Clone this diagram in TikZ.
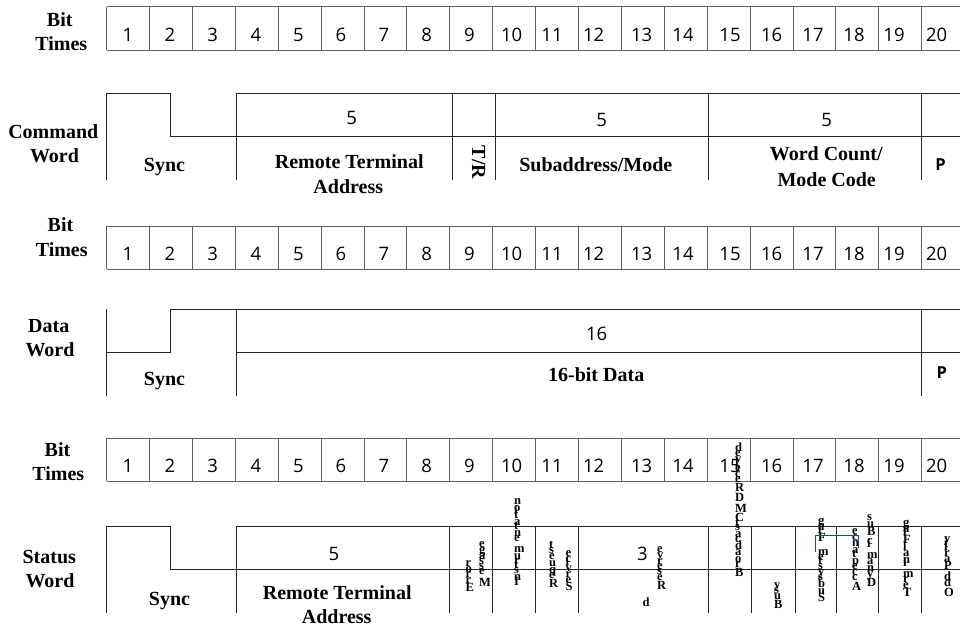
\documentclass[tikz,border=0pt]{standalone}
\usepackage{fontspec}
\setmainfont{Liberation Serif}
\newfontfamily\numfont{Open Sans}
\newcommand\vfnt{\bfseries\fontsize{12.5}{12.5}\selectfont}
\tikzset{
  lbl/.style={font=\bfseries\fontsize{20}{22}\selectfont, inner sep=0pt, anchor=base},
  num/.style={font=\numfont\fontsize{18.5}{20}\selectfont, inner sep=0pt, anchor=base},
  parity/.style={font=\numfont\bfseries\fontsize{16.5}{18}\selectfont, inner sep=0pt, anchor=base},
  vg/.style={font=\vfnt, inner sep=0pt, anchor=base west},
  gridln/.style={draw=black!62, line width=0.9pt},
  wline/.style={draw=black!85, line width=0.9pt},
  selbox/.style={draw=blue!55!cyan!70!black, line width=0.7pt},
}
\newcount\vcnt
\newcommand\vcglyph[3]{%
  \global\advance\vcnt by 1
  \edef\vcy{#2}%
  \node[vg] (vg\the\vcnt) at (#1,\vcy) {#3};%
}
\newcommand\vcmeasure[1]{\pgfinterruptpicture\vfnt #1\endpgfinterruptpicture}
\ExplSyntaxOn
\dim_new:N \g_vc_dim
\box_new:N \l_vc_box
\NewDocumentCommand \vcol { m m m }
  {
    \dim_gzero:N \g_vc_dim
    \tl_map_inline:nn {#3}
      {
        \hbox_set:Nn \l_vc_box { \vcmeasure {##1} }
        \vcglyph {#1} { \dim_to_decimal:n { #2pt - \g_vc_dim } } {##1}
        \dim_gadd:Nn \g_vc_dim { \box_wd:N \l_vc_box }
      }
  }
\ExplSyntaxOff
\begin{document}
\begin{tikzpicture}[x=1pt,y=-1pt]
\useasboundingbox (0,0) rectangle (960,627);
% ---------- bit time rows ----------
\foreach \t/\b in {6.7/50,226/269.3,438/481}{
  \draw[gridln] (106.7,\t) -- (960,\t);
  \draw[gridln] (106.7,\b) -- (960,\b);
  \foreach \i in {0,...,19}{
    \draw[gridln] ({106.7+42.89*\i},\t) -- ({106.7+42.89*\i},\b);
  }
}
\foreach \n/\cx in {1/128,2/170,3/212.7,4/255.8,5/298.5,6/340.8,7/384,8/426.7,9/469.5,10/511.7,11/552,12/593.7,13/641.7,14/683,15/730,16/771.7,17/813,18/854,19/894,20/936.7}{
  \node[num] (a\n) at (\cx,41.7) {\n};
  \node[num] (b\n) at (\cx,260.5) {\n};
  \node[num] (c\n) at (\cx,472.7) {\n};
}
\node[lbl] (bitA) at (59.7,26.7) {Bit};
\node[lbl] (timA) at (61.3,50) {Times};
\node[lbl] (bitB) at (60.5,231.7) {Bit};
\node[lbl] (timB) at (61.7,256) {Times};
\node[lbl] (bitC) at (57.5,456.7) {Bit};
\node[lbl] (timC) at (58.3,480.7) {Times};
% ---------- command word ----------
\draw[wline] (106.7,180) -- (106.7,93.3) -- (170,93.3) -- (170,136.3) -- (960,136.3);
\draw[wline] (236,93.3) -- (960,93.3);
\foreach \x in {236,452.5,495.3,708.7,921.7}{
  \draw[wline] (\x,93.3) -- (\x,180);
}
\node[lbl] (cmd1) at (53.3,138.3) {Command};
\node[lbl] (cmd2) at (54.5,162.7) {Word};
\node[lbl] (csync) at (164.5,171.7) {Sync};
\node[num] (c5a) at (351.7,124.5) {5};
\node[lbl] (crt1) at (349.2,168.3) {Remote Terminal};
\node[lbl] (crt2) at (348.3,193.3) {Address};
\node[font=\bfseries\fontsize{20}{22}\selectfont, inner sep=0pt, rotate=-90] (ctr) at (478.5,162.5) {T/R};
\node[num] (c5b) at (601.7,126) {5};
\node[lbl] (csub) at (595.8,171.7) {Subaddress/Mode};
\node[num] (c5c) at (826.7,126) {5};
\node[lbl] (cwc1) at (826.3,160) {Word Count/};
\node[lbl] (cwc2) at (826.7,186.7) {Mode Code};
\node[parity] (cp) at (940.5,170.7) {P};
% ---------- data word ----------
\draw[wline] (106.7,309.3) -- (106.7,396);
\draw[wline] (106.7,352.7) -- (170,352.7) -- (170,309.3) -- (960,309.3);
\draw[wline] (236,352.7) -- (960,352.7);
\draw[wline] (236,309.3) -- (236,396);
\draw[wline] (921.7,309.3) -- (921.7,396);
\node[lbl] (dat1) at (48.8,332.7) {Data};
\node[lbl] (dat2) at (50,356.7) {Word};
\node[lbl] (dsync) at (164.5,385) {Sync};
\node[num] (d16) at (596.7,340.7) {16};
\node[lbl] (ddata) at (596.2,381.7) {16-bit Data};
\node[parity] (dp) at (941.7,378.3) {P};
% ---------- status word ----------
\draw[wline] (106.7,612.7) -- (106.7,526.7) -- (170,526.7) -- (170,569.3) -- (960,569.3);
\draw[wline] (236,526.7) -- (960,526.7);
\foreach \x in {236,449.3,492.3,535.7,578.7,708.5,751.7,795,836.7,878.3,921.7}{
  \draw[wline] (\x,526.7) -- (\x,612.7);
}
\node[lbl] (sta1) at (49.3,563.3) {Status};
\node[lbl] (sta2) at (50,587.3) {Word};
\node[lbl] (ssync) at (169.5,605) {Sync};
\node[num] (s5) at (333.8,560.7) {5};
\node[lbl] (srt1) at (337.2,599.5) {Remote Terminal};
\node[lbl] (srt2) at (336.7,623.5) {Address};
\node[num] (s3) at (642.5,560) {3};
\node[vg, anchor=base] (sd) at (646.2,606.7) {d};
\vcol{465.5}{591.7}{Error}
\vcol{479}{586.7}{Message}
\vcol{514}{585.5}{Instrumentation}
\vcol{549}{587.7}{Request}
\vcol{565.5}{590}{Service}
\vcol{657}{589.3}{Reserve}
\vcol{735}{576}{BroadcastCMDReceived}
\vcol{774}{608.3}{Busy}
\vcol{818}{601.7}{Subsystem~Flag}
\vcol{852}{590}{Acceptance}
\vcol{867}{586.7}{Dynamic~Bus}
\vcol{903}{596.7}{Terminal~Flag}
\vcol{944}{596.7}{Odd~Parity}
\draw[selbox] (815,551.7) -- (815,535) -- (858.3,535) -- (858.3,548);
\end{tikzpicture}
\end{document}
